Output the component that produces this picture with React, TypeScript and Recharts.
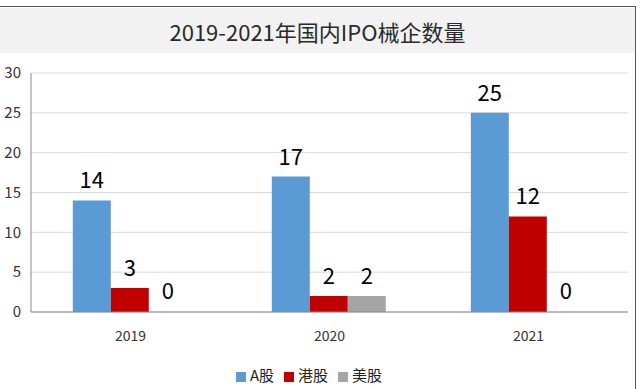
import React from "react";
import { BarChart, Bar, XAxis, YAxis, CartesianGrid, Legend, LabelList, Cell } from "recharts";

const years = ["2019", "2020", "2021"];
const aShares = [14, 17, 25];
const hkShares = [3, 2, 12];
const usShares = [0, 2, 0];
const yTicks = [0, 5, 10, 15, 20, 25, 30];
const seriesNames = ["A股", "港股", "美股"];
const title = "2019-2021年国内IPO械企数量";

const data = years.map((y, i) => ({ year: y, a: aShares[i], hk: hkShares[i], us: usShares[i] }));

const FONT = "'Noto Sans CJK SC', 'Noto Sans', sans-serif";
const labelStyle = { fontSize: 22, fill: "#000", fontFamily: FONT };

const series = [
  { key: "a", name: seriesNames[0], color: "#5b9bd5" },
  { key: "hk", name: seriesNames[1], color: "#c00000" },
  { key: "us", name: seriesNames[2], color: "#a5a5a5" },
];

export default function App() {
  return (
    <div style={{ position: "absolute", left: 0, top: 0, width: 641, height: 389, background: "#fff", fontFamily: FONT, overflow: "hidden" }}>
      <div style={{ position: "absolute", left: 0, top: 6, width: 636, height: 383, borderTop: "1.5px solid #555", borderRight: "1.5px solid #555", boxSizing: "border-box" }} />
      <div style={{ position: "absolute", left: 0, top: 8, width: 635, height: 45, background: "#f2f2f2", display: "flex", alignItems: "center", justifyContent: "center", fontSize: 22, color: "#2a2a2a", fontWeight: 400 }}>
        {title}
      </div>
      <div style={{ position: "absolute", left: 0, top: 0 }}>
        <BarChart width={641} height={389} data={data} margin={{ top: 73, right: 13, left: 0, bottom: 4 }} barGap={0} barCategoryGap="21%">
          <CartesianGrid vertical={false} stroke="#d9d9d9" />
          <XAxis dataKey="year" axisLine={{ stroke: "#888" }} tickLine={false} tick={{ fontSize: 14, fill: "#333", fontFamily: FONT }} tickMargin={13} height={52} />
          <YAxis domain={[0, 30]} ticks={yTicks} width={31} axisLine={{ stroke: "#888" }} tickLine={false} tickSize={0} tickMargin={10} tick={{ fontSize: 15, fill: "#333", fontFamily: FONT }} />
          <Legend verticalAlign="bottom" iconType="square" iconSize={10} wrapperStyle={{ fontSize: 15, color: "#222" }} formatter={(v) => <span style={{ color: "#222" }}>{v}</span>} />
          {series.map((s) => (
            <Bar key={s.key} dataKey={s.key} name={s.name} fill={s.color} minPointSize={1} isAnimationActive={false}>
              {data.map((d, i) => (
                <Cell key={i} fill={(d as any)[s.key] === 0 ? "transparent" : s.color} />
              ))}
              <LabelList dataKey={s.key} position="top" offset={12} style={labelStyle} />
            </Bar>
          ))}
        </BarChart>
      </div>
    </div>
  );
}
